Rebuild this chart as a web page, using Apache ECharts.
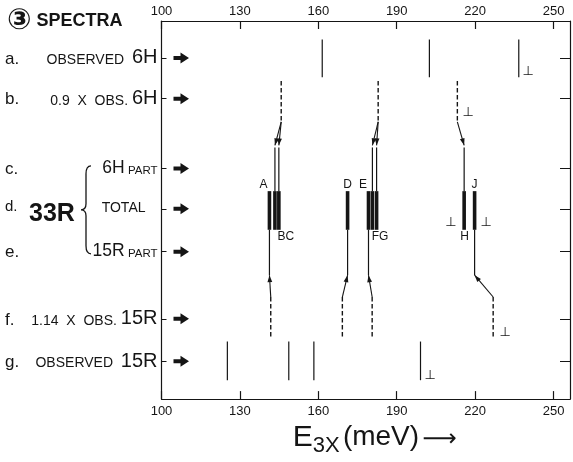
<!DOCTYPE html>
<html>
<head>
<meta charset="utf-8">
<script src="https://cdn.jsdelivr.net/npm/echarts@6/dist/echarts.min.js"></script>
<style>
  html, body { margin: 0; padding: 0; background: #fff; }
  #chart { width: 573px; height: 462px; }
</style>
</head>
<body>
<div id="chart"></div>
<script>
// energy axis (meV)
const xTicks = [100, 130, 160, 190, 220, 250];

// spectrum rows a..g, top to bottom (y in row units)
const rowLevels = [1, 1.97, 3.63, 4.59, 5.61, 7.21, 8.22];
const rowLetters = ['a.', 'b.', 'c.', 'd.', 'e.', 'f.', 'g.'];
const rowTexts = ['OBSERVED', '0.9  X  OBS.', 'PART', 'TOTAL', 'PART', '1.14  X  OBS.', 'OBSERVED'];
const rowTags = ['6H', '6H', '6H', '', '15R', '15R', '15R'];

// line positions
const obs6H = [161.5, 202.5, 236.7];
const scaled6H = [145.8, 182.9, 213.2];        // 0.9 x obs 6H
const part6H = [143.4, 144.9, 180.7, 182.3, 215.8];
const from6H = [0, 0, 1, 1, 2];                 // which scaled 6H line feeds it
const bars33R = [141.3, 143.4, 144.9, 171.2, 179.2, 180.7, 182.3, 215.8, 219.8];
const part15R = [141.3, 171.2, 179.2, 219.8];
const scaled15R = [141.8, 169.2, 180.6, 226.9]; // 1.14 x obs 15R
const obs15R = [125.2, 148.7, 158.3, 199.1];

// bar letters: text, bar index, side
const barLabels = [['A', 0, 'top'], ['BC', 2, 'bottom'], ['D', 3, 'top'], ['E', 4, 'top'],
  ['FG', 6, 'bottom'], ['H', 7, 'bottom'], ['J', 8, 'top']];
const barLabelShift = [-6, 7, 0, -5.5, 3.5, 0.5, 0];

// ⊥ marks: energy, row index
const limitX = [240.3, 217.3, 210.7, 224.2, 231.5, 202.8];
const limitRow = [0, 1, 3, 3, 5, 6];

const FONT = 'Liberation Sans, Arial, sans-serif';
const INK = '#151515';

const R = i => rowLevels[i];

// build segments [x1, y1, x2, y2]
const segSolid = [], segDash = [], segBar = [], segArrow = [];
obs6H.forEach(v => segSolid.push([v, R(0) - 0.44, v, R(0) + 0.46]));
obs15R.forEach(v => segSolid.push([v, R(6) - 0.47, v, R(6) + 0.45]));
scaled6H.forEach(v => segDash.push([v, R(1) - 0.42, v, R(1) + 0.55]));
scaled15R.forEach(v => segDash.push([v, R(5) - 0.52, v, R(5) + 0.47]));
part6H.forEach((v, i) => {
  segArrow.push([scaled6H[from6H[i]], R(1) + 0.55, v, R(2) - 0.55]);
  segSolid.push([v, R(2) - 0.5, v, R(3) - 0.42]);
});
part15R.forEach((v, i) => {
  segArrow.push([scaled15R[i], R(5) - 0.52, v, R(4) + 0.56]);
  segSolid.push([v, R(3) + 0.5, v, R(4) + 0.56]);
});
bars33R.forEach(v => segBar.push([v, R(3) - 0.42, v, R(3) + 0.5]));

function segRender(style, arrow) {
  return function (params, api) {
    const p1 = api.coord([api.value(0), api.value(1)]);
    const p2 = api.coord([api.value(2), api.value(3)]);
    const children = [{
      type: 'line',
      shape: { x1: p1[0], y1: p1[1], x2: p2[0], y2: p2[1] },
      style: style
    }];
    if (arrow) {
      const dx = p2[0] - p1[0], dy = p2[1] - p1[1];
      const len = Math.sqrt(dx * dx + dy * dy);
      const ux = dx / len, uy = dy / len;
      const bx = p2[0] - ux * 7, by = p2[1] - uy * 7;
      children.push({
        type: 'polygon',
        shape: { points: [[p2[0], p2[1]], [bx - uy * 2.4, by + ux * 2.4], [bx + uy * 2.4, by - ux * 2.4]] },
        style: { fill: INK }
      });
    }
    return { type: 'group', children: children };
  };
}

function rowRender(params, api) {
  const i = params.dataIndex;
  const p = api.coord([api.value(0), api.value(1)]);
  const x0 = p[0], y = p[1];
  const children = [];
  children.push({
    type: 'text',
    style: { text: rowLetters[i], x: 5, y: i === 3 ? y - 2 : y + 1, textAlign: 'left', textVerticalAlign: 'middle',
      fontSize: i === 3 ? 15 : 17, fontFamily: FONT, fill: INK }
  });
  let txt;
  const gap = (i === 0 || i === 6) ? '  ' : ' ';
  if (i === 3) txt = '{s|TOTAL}';
  else if (i === 2 || i === 4) txt = '{m|' + rowTags[i] + '}{p| ' + rowTexts[i] + '}';
  else txt = '{s|' + rowTexts[i] + gap + '}{b|' + rowTags[i] + '}';
  children.push({
    type: 'text',
    style: {
      text: txt, x: i === 3 ? x0 - 16 : x0 - 4, y: y, textAlign: 'right', textVerticalAlign: 'middle', fill: INK,
      rich: {
        s: { fontSize: 14, fontFamily: FONT, fill: INK, verticalAlign: 'bottom', padding: [0, 0, 1, 0] },
        p: { fontSize: 11.5, fontFamily: FONT, fill: INK, verticalAlign: 'bottom', padding: [0, 0, 1, 0] },
        b: { fontSize: 20, fontFamily: FONT, fill: INK, verticalAlign: 'bottom' },
        m: { fontSize: 17.5, fontFamily: FONT, fill: INK, verticalAlign: 'bottom' }
      }
    }
  });
  // fat arrow pointing at the row
  children.push({
    type: 'polygon',
    shape: { points: [[x0 + 12, y - 2], [x0 + 19, y - 2], [x0 + 19, y - 5.5], [x0 + 27.5, y],
      [x0 + 19, y + 5.5], [x0 + 19, y + 2], [x0 + 12, y + 2]] },
    style: { fill: INK }
  });
  if (i === 3) {
    children.push({
      type: 'text',
      style: { text: '33R', x: 29, y: y + 5, textAlign: 'left', textVerticalAlign: 'middle',
        fontSize: 25, fontWeight: 'bold', fontFamily: FONT, fill: INK }
    });
    const t = y - 43, b = y + 45, m = y + 1;
    children.push({
      type: 'path',
      shape: { pathData: 'M91 ' + t + ' C87 ' + t + ' 86 ' + (t + 3) + ' 86 ' + (t + 8) +
        ' L86 ' + (m - 6) + ' C86 ' + (m - 2) + ' 84 ' + m + ' 81 ' + m +
        ' C84 ' + m + ' 86 ' + (m + 2) + ' 86 ' + (m + 6) +
        ' L86 ' + (b - 8) + ' C86 ' + (b - 3) + ' 87 ' + b + ' 91 ' + b },
      style: { stroke: INK, fill: 'none', lineWidth: 1.3 }
    });
  }
  return { type: 'group', children: children };
}

function barLabelRender(params, api) {
  const i = params.dataIndex;
  const lab = barLabels[i];
  const side = lab[2];
  const p = api.coord([bars33R[lab[1]], side === 'top' ? R(3) - 0.42 : R(3) + 0.5]);
  return {
    type: 'text',
    style: { text: lab[0], x: p[0] + barLabelShift[i], y: side === 'top' ? p[1] - 6 : p[1] + 7,
      textAlign: 'center', textVerticalAlign: 'middle', fontSize: 12, fontFamily: FONT, fill: INK }
  };
}

function limitRender(params, api) {
  const p = api.coord([api.value(0), api.value(1)]);
  return {
    type: 'text',
    style: { text: '⊥', x: p[0], y: p[1] + 14, textAlign: 'center', textVerticalAlign: 'middle',
      fontSize: 13, fontFamily: 'DejaVu Sans', fill: INK }
  };
}

const chart = echarts.init(document.getElementById('chart'));

const xLabel = v => (xTicks.indexOf(Math.round(v * 10) / 10) >= 0 ? String(v) : '');
const xCommon = {
  type: 'value',
  min: 100,
  max: 256.3,
  interval: 30,
  splitLine: { show: false },
  axisLine: { onZero: false, lineStyle: { color: INK, width: 1.2 } },
  axisTick: { inside: true, length: 8, lineStyle: { color: INK, width: 1.2 } },
  axisLabel: { formatter: xLabel, fontSize: 13, fontFamily: FONT, color: INK, showMaxLabel: false }
};
const yCommon = {
  type: 'value',
  inverse: true,
  min: 0.12,
  max: 9.12,
  splitLine: { show: false },
  axisLine: { show: true, onZero: false, lineStyle: { color: INK, width: 1.2 } },
  axisLabel: { show: false }
};

const option = {
  backgroundColor: '#fff',
  animation: false,
  title: {
    text: '{c|③} {t|SPECTRA}',
    left: 2,
    top: 2,
    textStyle: {
      rich: {
        c: { fontSize: 29, fontFamily: 'DejaVu Sans', color: INK },
        t: { fontSize: 18, fontWeight: 'bold', fontFamily: FONT, color: INK }
      }
    }
  },
  grid: { left: 161.5, right: 3, top: 21, bottom: 59 },
  xAxis: [
    Object.assign({}, xCommon, {
      position: 'bottom',
      axisLabel: Object.assign({}, xCommon.axisLabel, { margin: 6 }),
      name: '{e|E}{s|3X} {n|(meV)} {a|⟶}',
      nameLocation: 'middle',
      nameGap: 21,
      nameTextStyle: {
        padding: [0, 0, 0, 18],
        rich: {
          e: { fontSize: 30, fontFamily: FONT, color: INK, verticalAlign: 'top' },
          s: { fontSize: 22, fontFamily: FONT, color: INK, verticalAlign: 'top', padding: [12, 0, 0, 0] },
          n: { fontSize: 28, fontFamily: FONT, color: INK, verticalAlign: 'top' },
          a: { fontSize: 24, fontFamily: 'DejaVu Sans', color: INK, verticalAlign: 'top', padding: [5, 0, 0, 0] }
        }
      }
    }),
    Object.assign({}, xCommon, {
      position: 'top',
      axisLabel: Object.assign({}, xCommon.axisLabel, { margin: 3 })
    })
  ],
  yAxis: [
    Object.assign({}, yCommon, {
      position: 'left',
      axisTick: { show: true, inside: true, length: 5, customValues: rowLevels, lineStyle: { color: INK } }
    }),
    Object.assign({}, yCommon, {
      position: 'right',
      axisTick: { show: true, inside: true, length: 10, customValues: rowLevels, lineStyle: { color: INK } }
    })
  ],
  series: [
    { type: 'custom', name: 'solid', data: segSolid, renderItem: segRender({ stroke: INK, lineWidth: 1.2 }, false) },
    { type: 'custom', name: 'dashed', data: segDash,
      renderItem: segRender({ stroke: INK, lineWidth: 1.4, lineDash: [4.5, 2.5] }, false) },
    { type: 'custom', name: 'connect', data: segArrow, renderItem: segRender({ stroke: INK, lineWidth: 1.1 }, true) },
    { type: 'custom', name: '33R', data: segBar, renderItem: segRender({ stroke: INK, lineWidth: 3.6 }, false) },
    { type: 'custom', name: 'rows', data: rowLevels.map(v => [100, v]), renderItem: rowRender },
    { type: 'custom', name: 'barLabels', data: barLabels.map(l => [bars33R[l[1]], R(3)]), renderItem: barLabelRender },
    { type: 'custom', name: 'limits', data: limitX.map((v, i) => [v, R(limitRow[i])]), renderItem: limitRender }
  ]
};

chart.setOption(option);
</script>
</body>
</html>
